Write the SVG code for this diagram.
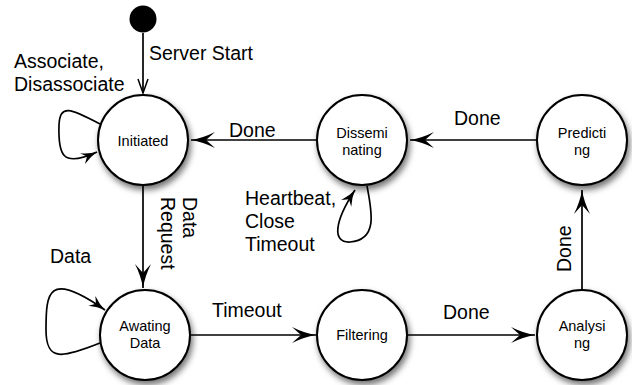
<svg xmlns="http://www.w3.org/2000/svg" width="632" height="385" viewBox="0 0 632 385">
<style>
.node{fill:#fff;stroke:#000;stroke-width:2;filter:url(#sh)}
.nl{font-family:"Liberation Sans",Arial,sans-serif;font-size:14.5px;text-anchor:middle;fill:#000}
.el{font-family:"Liberation Sans",Arial,sans-serif;font-size:19.5px;fill:#000}
.c{fill:none;stroke:#000;stroke-width:1.7}
</style>
<defs>
<filter id="sh" x="-30%" y="-30%" width="170%" height="170%">
<feDropShadow dx="2" dy="4" stdDeviation="3" flood-color="#000" flood-opacity="0.55"/>
</filter>
<marker id="a" markerUnits="userSpaceOnUse" markerWidth="26" markerHeight="18" refX="24" refY="8" orient="auto" overflow="visible">
<path d="M0,0 Q12,6 24,8 Q12,10 0,16 L9,8 Z" fill="#000"/>
</marker>
<marker id="s" markerUnits="userSpaceOnUse" markerWidth="18" markerHeight="14" refX="16" refY="6" orient="auto" overflow="visible">
<path d="M0,0 Q8,4.5 16,6 Q8,7.5 0,12 L5,6 Z" fill="#000"/>
</marker>
<marker id="v" markerUnits="userSpaceOnUse" markerWidth="16" markerHeight="12" refX="14" refY="5" orient="auto" overflow="visible">
<path d="M0,0 L14,5 L0,10" fill="none" stroke="#000" stroke-width="1.5"/>
</marker>
</defs>
<g id="connectors">
<line class="c" x1="143" y1="33" x2="143" y2="93" marker-end="url(#v)"/>
<line class="c" x1="317" y1="140" x2="191" y2="140" marker-end="url(#a)"/>
<line class="c" x1="537" y1="140" x2="410" y2="140" marker-end="url(#a)"/>
<line class="c" x1="143" y1="185" x2="143" y2="288" marker-end="url(#a)"/>
<line class="c" x1="190" y1="335" x2="316" y2="335" marker-end="url(#a)"/>
<line class="c" x1="408" y1="335" x2="535" y2="335" marker-end="url(#a)"/>
<line class="c" x1="582" y1="290" x2="582" y2="190" marker-end="url(#a)"/>
<path class="c" d="M100,124 C70,108 60,104 59,125 C58,155 62,168 97,152" marker-end="url(#s)"/>
<path class="c" d="M100,343 C62,358 46,362 46,330 C46,292 48,270 105,310" marker-end="url(#s)"/>
<path class="c" d="M367,186 C372,212 378,240 350,242 C332,243 334,222 355,190" marker-end="url(#s)"/>
<text class="el" x="149" y="60">Server Start</text>
<text class="el" x="14" y="68">Associate,</text>
<text class="el" x="14" y="91">Disassociate</text>
<text class="el" x="229" y="137">Done</text>
<text class="el" x="454" y="125">Done</text>
<text class="el" x="245" y="205">Heartbeat,</text>
<text class="el" x="245" y="228">Close</text>
<text class="el" x="245" y="251">Timeout</text>
<text class="el" transform="translate(183,197) rotate(90)">Data</text>
<text class="el" transform="translate(161,197) rotate(90)">Request</text>
<text class="el" x="50" y="263">Data</text>
<text class="el" x="212" y="317">Timeout</text>
<text class="el" x="443" y="319">Done</text>
<text class="el" transform="translate(571,272) rotate(-90)">Done</text>
</g>
<g id="start"><circle cx="143" cy="19" r="13.5" fill="#000"/></g>
<g id="initiated"><circle class="node" cx="143" cy="140" r="45"/><text class="nl" x="143" y="146">Initiated</text></g>
<g id="disseminating"><circle class="node" cx="362" cy="140" r="45"/><text class="nl" x="362" y="138">Dissemi</text><text class="nl" x="362" y="155">nating</text></g>
<g id="predicting"><circle class="node" cx="582" cy="140" r="45"/><text class="nl" x="582" y="138">Predicti</text><text class="nl" x="582" y="155">ng</text></g>
<g id="awaiting"><circle class="node" cx="145" cy="335" r="45"/><text class="nl" x="145" y="331">Awating</text><text class="nl" x="145" y="348">Data</text></g>
<g id="filtering"><circle class="node" cx="362" cy="335" r="45"/><text class="nl" x="362" y="340">Filtering</text></g>
<g id="analysing"><circle class="node" cx="582" cy="335" r="45"/><text class="nl" x="582" y="331">Analysi</text><text class="nl" x="582" y="348">ng</text></g>
</svg>
